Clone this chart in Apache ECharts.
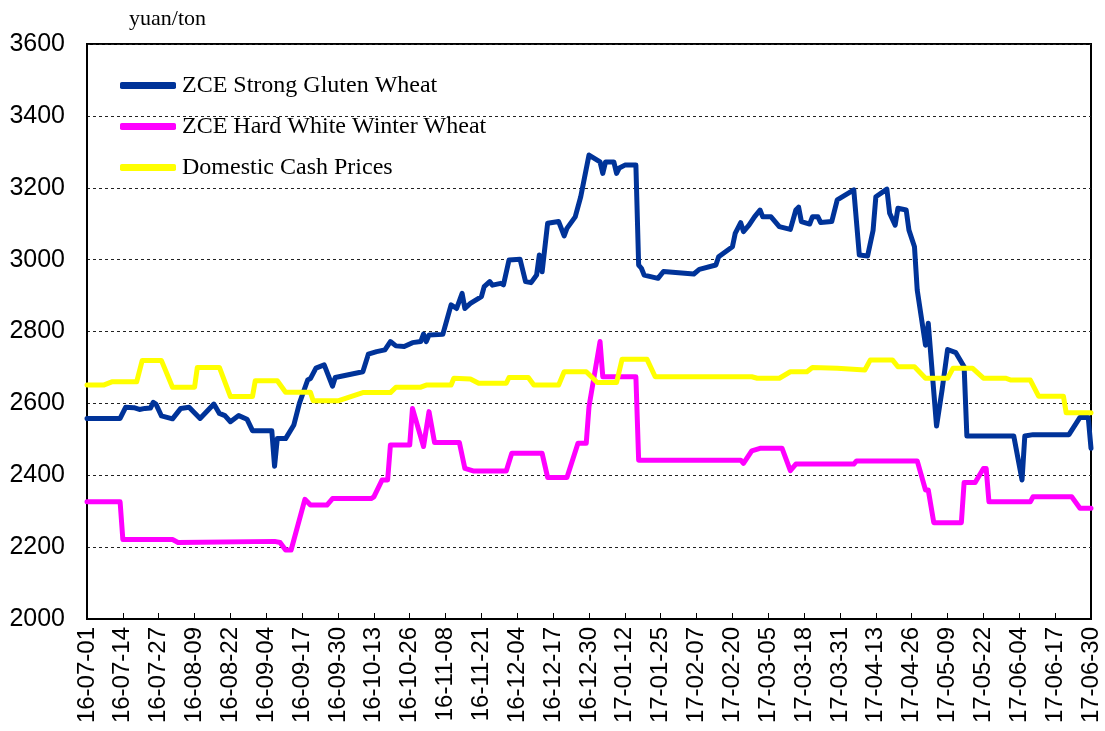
<!DOCTYPE html>
<html>
<head>
<meta charset="utf-8">
<script src="https://cdn.jsdelivr.net/npm/echarts@6/dist/echarts.min.js"></script>
<style>
html,body{margin:0;padding:0;background:#fff;}
#chart{width:1105px;height:731px;}
</style>
</head>
<body>
<div id="chart"></div>
<script>
// Daily categories 16-07-01 .. 17-06-30
var startDate = [2016, 6, 1];
var dayCount = 365;
var categories = [];
for (var i = 0; i < dayCount; i++) {
  var d = new Date(Date.UTC(startDate[0], startDate[1], startDate[2] + i));
  var yy = String(d.getUTCFullYear()).slice(2);
  var mm = ('0' + (d.getUTCMonth() + 1)).slice(-2);
  var dd = ('0' + d.getUTCDate()).slice(-2);
  categories.push(yy + '-' + mm + '-' + dd);
}

var seriesNames = ['ZCE Strong Gluten Wheat', 'ZCE Hard White Winter Wheat', 'Domestic Cash Prices'];

var strongGluten = [
  ['16-07-01',2558],['16-07-13',2558],['16-07-15',2589],['16-07-18',2588],['16-07-20',2583],['16-07-22',2586],
  ['16-07-24',2587],['16-07-25',2603],['16-07-26',2598],['16-07-28',2565],['16-08-01',2557],['16-08-04',2586],
  ['16-08-07',2589],['16-08-11',2558],['16-08-16',2598],['16-08-18',2572],['16-08-20',2566],['16-08-22',2549],
  ['16-08-25',2566],['16-08-28',2556],['16-08-30',2524],['16-09-06',2524],['16-09-07',2425],['16-09-08',2502],
  ['16-09-11',2502],['16-09-14',2540],['16-09-16',2600],['16-09-19',2665],['16-09-20',2669],['16-09-22',2698],
  ['16-09-25',2707],['16-09-28',2648],['16-09-29',2672],['16-10-09',2688],['16-10-11',2737],['16-10-14',2744],
  ['16-10-17',2749],['16-10-19',2772],['16-10-21',2760],['16-10-24',2758],['16-10-27',2769],['16-10-30',2772],
  ['16-10-31',2793],['16-11-01',2772],['16-11-02',2790],['16-11-07',2792],['16-11-10',2874],['16-11-12',2864],
  ['16-11-14',2906],['16-11-15',2864],['16-11-17',2878],['16-11-21',2897],['16-11-22',2925],['16-11-24',2939],
  ['16-11-25',2929],['16-11-28',2934],['16-11-29',2930],['16-12-01',2999],['16-12-05',3001],['16-12-07',2939],
  ['16-12-09',2936],['16-12-11',2957],['16-12-12',3013],['16-12-13',2966],['16-12-15',3101],['16-12-19',3106],
  ['16-12-21',3066],['16-12-22',3087],['16-12-25',3119],['16-12-27',3175],['16-12-30',3291],['17-01-03',3272],
  ['17-01-04',3240],['17-01-05',3272],['17-01-08',3272],['17-01-09',3240],['17-01-10',3255],['17-01-12',3263],
  ['17-01-16',3263],['17-01-17',2985],['17-01-18',2976],['17-01-19',2957],['17-01-24',2948],['17-01-26',2967],
  ['17-02-06',2960],['17-02-08',2973],['17-02-14',2985],['17-02-15',3008],['17-02-20',3036],['17-02-21',3073],
  ['17-02-23',3103],['17-02-24',3078],['17-02-26',3096],['17-02-28',3119],['17-03-02',3138],['17-03-03',3119],
  ['17-03-06',3119],['17-03-09',3092],['17-03-13',3084],['17-03-15',3138],['17-03-16',3146],['17-03-17',3106],
  ['17-03-20',3099],['17-03-21',3119],['17-03-23',3119],['17-03-24',3103],['17-03-28',3106],['17-03-30',3166],
  ['17-04-05',3194],['17-04-07',3013],['17-04-10',3010],['17-04-12',3082],['17-04-13',3175],['17-04-17',3196],
  ['17-04-18',3129],['17-04-20',3096],['17-04-21',3143],['17-04-24',3138],['17-04-25',3082],['17-04-27',3036],
  ['17-04-28',2915],['17-05-01',2762],['17-05-02',2823],['17-05-05',2537],['17-05-07',2637],['17-05-09',2750],
  ['17-05-12',2741],['17-05-15',2702],['17-05-16',2509],['17-06-02',2509],['17-06-05',2387],['17-06-06',2509],
  ['17-06-09',2513],['17-06-22',2513],['17-06-26',2561],['17-06-29',2561],['17-06-30',2475]
];

var hardWhiteWinter = [
  ['16-07-01',2326],['16-07-13',2326],['16-07-14',2221],['16-08-01',2221],['16-08-03',2213],['16-09-07',2216],
  ['16-09-09',2213],['16-09-11',2192],['16-09-13',2192],['16-09-18',2333],['16-09-20',2317],['16-09-26',2317],
  ['16-09-28',2335],['16-10-12',2335],['16-10-13',2340],['16-10-16',2387],['16-10-18',2387],['16-10-19',2484],
  ['16-10-26',2484],['16-10-27',2586],['16-10-31',2480],['16-11-02',2577],['16-11-04',2491],['16-11-13',2491],
  ['16-11-15',2419],['16-11-18',2412],['16-11-30',2412],['16-12-02',2461],['16-12-13',2461],['16-12-15',2394],
  ['16-12-22',2394],['16-12-26',2489],['16-12-29',2489],['16-12-30',2591],['17-01-03',2772],['17-01-04',2674],
  ['17-01-16',2674],['17-01-17',2442],['17-02-23',2442],['17-02-24',2433],['17-02-27',2468],['17-03-02',2475],
  ['17-03-10',2475],['17-03-13',2413],['17-03-15',2431],['17-04-05',2431],['17-04-06',2440],['17-04-28',2440],
  ['17-05-01',2359],['17-05-02',2359],['17-05-04',2268],['17-05-14',2268],['17-05-15',2380],['17-05-19',2380],
  ['17-05-22',2419],['17-05-23',2419],['17-05-24',2326],['17-06-08',2326],['17-06-09',2340],['17-06-23',2340],
  ['17-06-26',2308],['17-06-30',2308]
];

var domesticCash = [
  ['16-07-01',2651],['16-07-07',2651],['16-07-10',2660],['16-07-19',2660],['16-07-21',2719],['16-07-28',2719],
  ['16-08-01',2645],['16-08-09',2645],['16-08-10',2700],['16-08-18',2700],['16-08-22',2619],['16-08-30',2619],
  ['16-08-31',2663],['16-09-08',2663],['16-09-11',2631],['16-09-20',2631],['16-09-21',2607],['16-09-30',2607],
  ['16-10-09',2630],['16-10-19',2630],['16-10-21',2645],['16-10-30',2645],['16-11-01',2651],['16-11-10',2651],
  ['16-11-11',2670],['16-11-17',2668],['16-11-20',2656],['16-11-30',2656],['16-12-01',2672],['16-12-08',2672],
  ['16-12-10',2651],['16-12-19',2651],['16-12-21',2688],['16-12-29',2688],['17-01-02',2658],['17-01-09',2658],
  ['17-01-11',2723],['17-01-20',2723],['17-01-23',2674],['17-02-27',2674],['17-03-01',2670],['17-03-09',2670],
  ['17-03-13',2688],['17-03-19',2688],['17-03-21',2700],['17-03-30',2698],['17-04-09',2693],['17-04-11',2721],
  ['17-04-19',2721],['17-04-21',2702],['17-04-27',2702],['17-05-01',2670],['17-05-09',2670],['17-05-11',2698],
  ['17-05-18',2698],['17-05-22',2670],['17-05-30',2670],['17-06-01',2665],['17-06-08',2665],['17-06-11',2620],
  ['17-06-20',2620],['17-06-21',2574],['17-06-30',2574]
];

var yMin = 2000, yMax = 3600, yStep = 200;
var unitLabel = 'yuan/ton';

var chart = echarts.init(document.getElementById('chart'), null, {renderer: 'canvas'});
function lineSeries(name, data, color) {
  return {
    name: name, type: 'line', data: data, showSymbol: false, symbol: 'none',
    lineStyle: {color: color, width: 5, cap: 'round', join: 'round'},
    itemStyle: {color: color}, animation: false
  };
}
chart.setOption({
  animation: false,
  backgroundColor: '#ffffff',
  title: {
    text: unitLabel, left: 124, top: 3,
    textStyle: {fontFamily: 'Liberation Serif', fontSize: 22, fontWeight: 'normal', color: '#000'}
  },
  grid: {left: 87, right: 14, top: 44, bottom: 112, show: true, borderColor: '#000', borderWidth: 2, containLabel: false},
  legend: {
    orient: 'vertical', left: 115, top: 68,
    icon: 'roundRect', itemWidth: 56, itemHeight: 7, itemGap: 16,
    textStyle: {fontFamily: 'Liberation Serif', fontSize: 24, color: '#000', lineHeight: 25, padding: [0, 0, 0, 1]},
    data: seriesNames
  },
  xAxis: {
    type: 'category', data: categories, boundaryGap: false,
    axisLine: {lineStyle: {color: '#000', width: 2}},
    axisTick: {show: true, inside: true, interval: 12, length: 6, lineStyle: {color: '#000', width: 1}},
    axisLabel: {interval: 12, rotate: 90, margin: 8, fontFamily: 'Liberation Sans', fontSize: 24, color: '#000'},
    splitLine: {show: false}
  },
  yAxis: {
    type: 'value', min: yMin, max: yMax, interval: yStep,
    axisLine: {show: true, lineStyle: {color: '#000', width: 2}},
    axisTick: {show: false},
    axisLabel: {margin: 22, fontFamily: 'Liberation Sans', fontSize: 25, color: '#000',
      formatter: function (v) { return String(v); }},
    splitLine: {show: true, lineStyle: {color: '#222', width: 1, type: [3, 3]}}
  },
  series: [
    lineSeries(seriesNames[0], strongGluten, '#003399'),
    lineSeries(seriesNames[1], hardWhiteWinter, '#FF00FF'),
    lineSeries(seriesNames[2], domesticCash, '#FFFF00')
  ]
});
</script>
</body>
</html>
